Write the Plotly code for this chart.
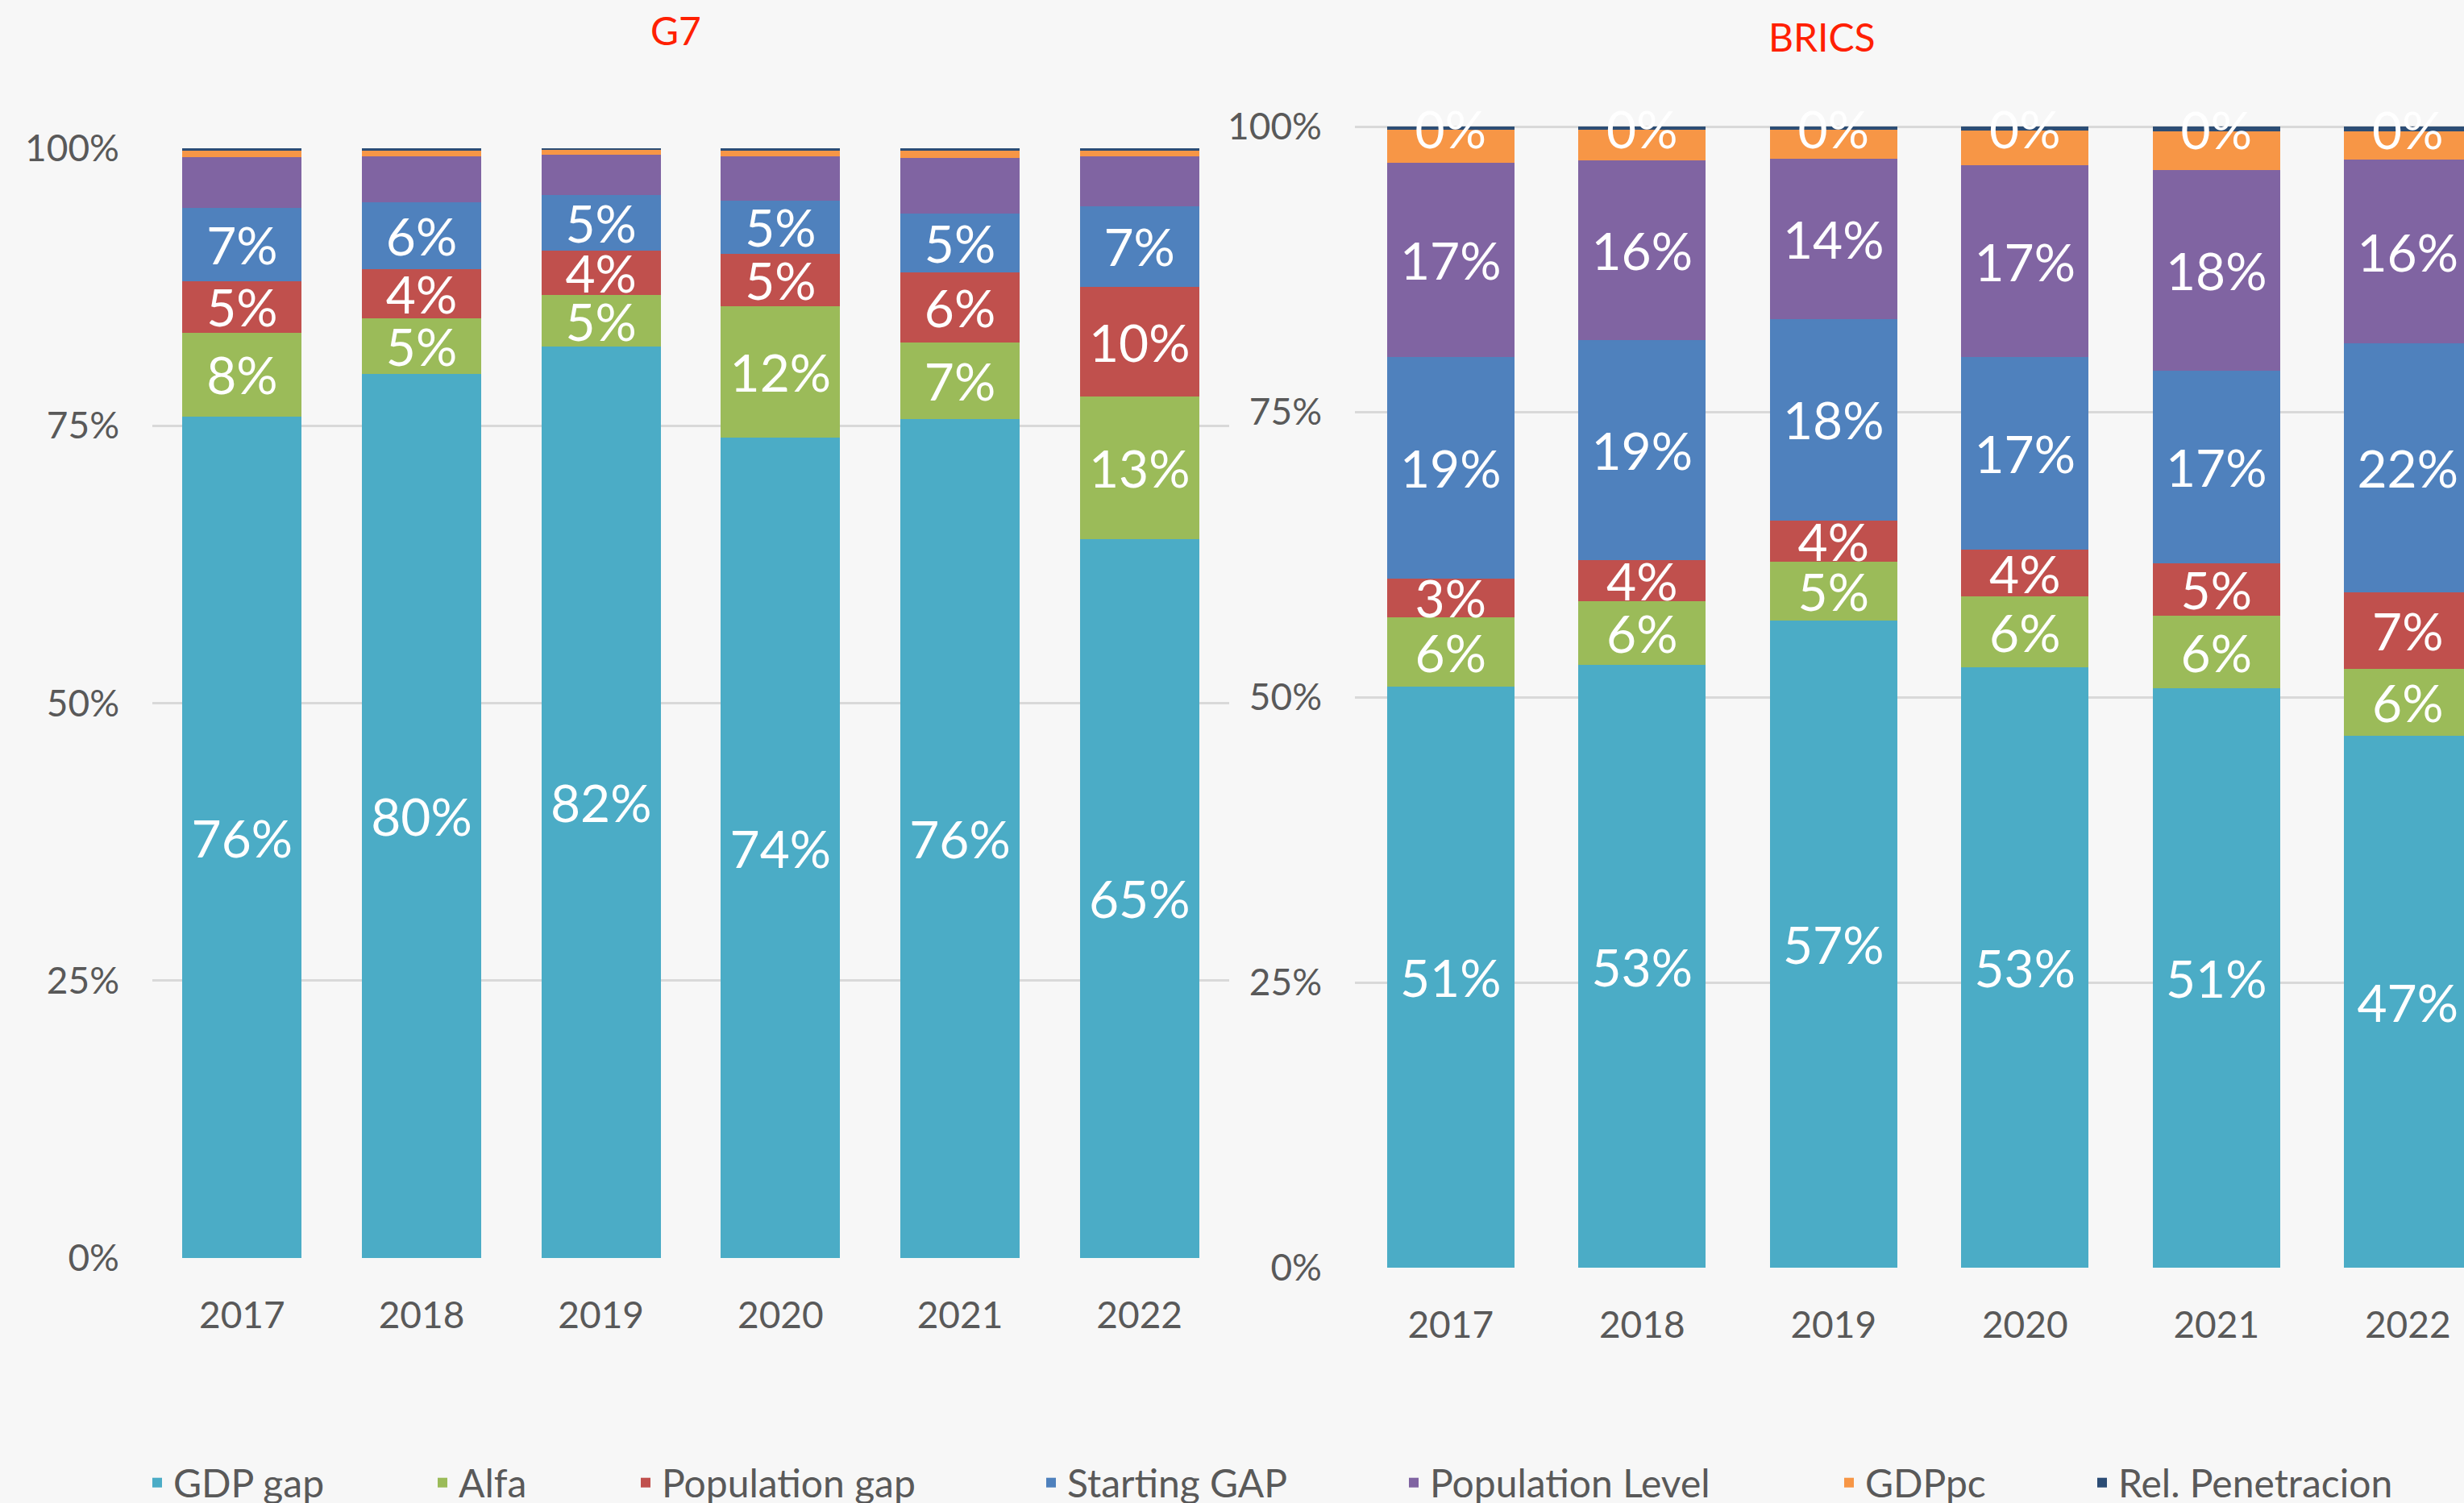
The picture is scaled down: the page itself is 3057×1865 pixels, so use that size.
import math
import plotly.graph_objects as go

# ---------------- data ----------------
years = ["2017", "2018", "2019", "2020", "2021", "2022"]
series_names = ["GDP gap", "Alfa", "Population gap", "Starting GAP",
                "Population Level", "GDPpc", "Rel. Penetracion"]
colors = ["#4BACC6", "#9BBB59", "#C0504D", "#4F81BD", "#8064A2", "#F79646", "#2C4D75"]

g7_gdp_gap = [75.8, 79.7, 82.1, 73.9, 75.6, 64.8]
g7_alfa = [7.6, 5.0, 4.7, 11.9, 6.9, 12.8]
g7_pop_gap = [4.6, 4.4, 4.0, 4.7, 6.3, 9.9]
g7_starting_gap = [6.6, 6.0, 5.0, 4.8, 5.3, 7.3]
g7_pop_level = [4.6, 4.2, 3.6, 4.0, 5.0, 4.5]
g7_gdppc = [0.6, 0.5, 0.45, 0.5, 0.7, 0.5]
g7_rel_pen = [0.2, 0.2, 0.15, 0.2, 0.2, 0.2]

brics_gdp_gap = [50.9, 52.8, 56.7, 52.6, 50.8, 46.6]
brics_alfa = [6.1, 5.6, 5.2, 6.2, 6.3, 5.9]
brics_pop_gap = [3.4, 3.6, 3.6, 4.1, 4.6, 6.7]
brics_starting_gap = [19.4, 19.3, 17.6, 16.9, 16.9, 21.8]
brics_pop_level = [17.0, 15.7, 14.1, 16.8, 17.6, 16.1]
brics_gdppc = [2.9, 2.7, 2.5, 3.05, 3.35, 2.45]
brics_rel_pen = [0.3, 0.3, 0.3, 0.35, 0.45, 0.45]

# which series carry data labels in each panel
g7_labelled = [True, True, True, True, False, False, False]
brics_labelled = [True, True, True, True, True, False, True]

y_tick_vals = [0, 25, 50, 75, 100]
y_tick_text = ["0%", "25%", "50%", "75%", "100%"]

g7_series = [g7_gdp_gap, g7_alfa, g7_pop_gap, g7_starting_gap,
             g7_pop_level, g7_gdppc, g7_rel_pen]
brics_series = [brics_gdp_gap, brics_alfa, brics_pop_gap, brics_starting_gap,
                brics_pop_level, brics_gdppc, brics_rel_pen]

# ---------------- figure ----------------
W, H = 3057, 1865
FONT = "Lato"
LABEL_SIZE = 64
TICK_SIZE = 46
LEGEND_SIZE = 48
GREY = "#595959"
BG = "#F7F7F7"


def pct(v):
    return f"{int(math.floor(v + 0.5))}%"


fig = go.Figure()

for i, (name, col) in enumerate(zip(series_names, colors)):
    vals = g7_series[i]
    fig.add_trace(go.Bar(
        x=years, y=vals, name=name, marker=dict(color=col, line=dict(width=0)),
        text=[pct(v) for v in vals] if g7_labelled[i] else None,
        textposition="inside" if g7_labelled[i] else "none",
        insidetextanchor="middle", constraintext="none", textangle=0,
        textfont=dict(family=FONT, size=LABEL_SIZE, color="white"),
        xaxis="x", yaxis="y", legend="legend" if i == 0 else f"legend{i + 1}",
        showlegend=True, hoverinfo="skip",
    ))

for i, (name, col) in enumerate(zip(series_names, colors)):
    vals = brics_series[i]
    fig.add_trace(go.Bar(
        x=years, y=vals, name=name, marker=dict(color=col, line=dict(width=0)),
        text=[pct(v) for v in vals] if brics_labelled[i] else None,
        textposition="inside" if brics_labelled[i] else "none",
        insidetextanchor="middle", constraintext="none", textangle=0,
        textfont=dict(family=FONT, size=LABEL_SIZE, color="white"),
        cliponaxis=False,
        xaxis="x2", yaxis="y2", showlegend=False, hoverinfo="skip",
    ))


def px_x(p):
    return p / W


def px_y(p):
    return 1 - p / H


axis_common = dict(showline=False, zeroline=False, ticks="",
                   tickfont=dict(family=FONT, size=TICK_SIZE, color=GREY))

# BRICS panel: 0% at y=1573px, 100% at y=157px; range extended a little above 100
# so that the labels sitting on the top segment are not clipped.
brics_px_per_unit = (1573 - 157) / 100
brics_top = 106

layout = dict(
    width=W, height=H,
    paper_bgcolor=BG, plot_bgcolor=BG,
    font=dict(family=FONT, color=GREY),
    barmode="stack", bargap=0.335,
    margin=dict(l=0, r=0, t=0, b=0, autoexpand=False),
    xaxis=dict(domain=[px_x(189), px_x(1525)], range=[-0.5, 5.5], type="category",
               showgrid=False, ticklabelstandoff=40, anchor="y", **axis_common),
    yaxis=dict(domain=[px_y(1561), px_y(184)], range=[0, 100],
               tickvals=y_tick_vals, ticktext=y_tick_text,
               showgrid=True, gridcolor="#D9D9D9", gridwidth=3,
               ticklabelstandoff=40, anchor="x", **axis_common),
    xaxis2=dict(domain=[px_x(1681), 1.0], range=[-0.5, -0.5 + (W - 1681) / 237.5],
                type="category", showgrid=False, ticklabelstandoff=40, anchor="y2",
                **axis_common),
    yaxis2=dict(domain=[px_y(1573), px_y(1573 - brics_top * brics_px_per_unit)],
                range=[0, brics_top],
                tickvals=y_tick_vals, ticktext=y_tick_text,
                showgrid=True, gridcolor="#D9D9D9", gridwidth=3,
                ticklabelstandoff=40, anchor="x2", **axis_common),
    annotations=[
        dict(text="G7", x=px_x(838), y=px_y(38), xref="paper", yref="paper",
             showarrow=False, xanchor="center", yanchor="middle",
             font=dict(family=FONT, size=48, color="#FF2000")),
        dict(text="BRICS", x=px_x(2260), y=px_y(45), xref="paper", yref="paper",
             showarrow=False, xanchor="center", yanchor="middle",
             font=dict(family=FONT, size=48, color="#FF2000")),
    ],
)

legend_text_starts = [215, 569, 821, 1324, 1774, 2314, 2628]
for i, xs in enumerate(legend_text_starts):
    key = "legend" if i == 0 else f"legend{i + 1}"
    layout[key] = dict(
        x=px_x(xs - 40), y=px_y(1840), xanchor="left", yanchor="middle",
        orientation="h", bgcolor="rgba(0,0,0,0)", borderwidth=0,
        font=dict(family=FONT, size=LEGEND_SIZE, color=GREY),
        traceorder="normal",
    )

fig.update_layout(**layout)
fig.write_html(
    "out.html",
    config={"displayModeBar": False},
    post_script="document.body.style.margin='0';"
                "document.body.style.background='" + BG + "';",
)
